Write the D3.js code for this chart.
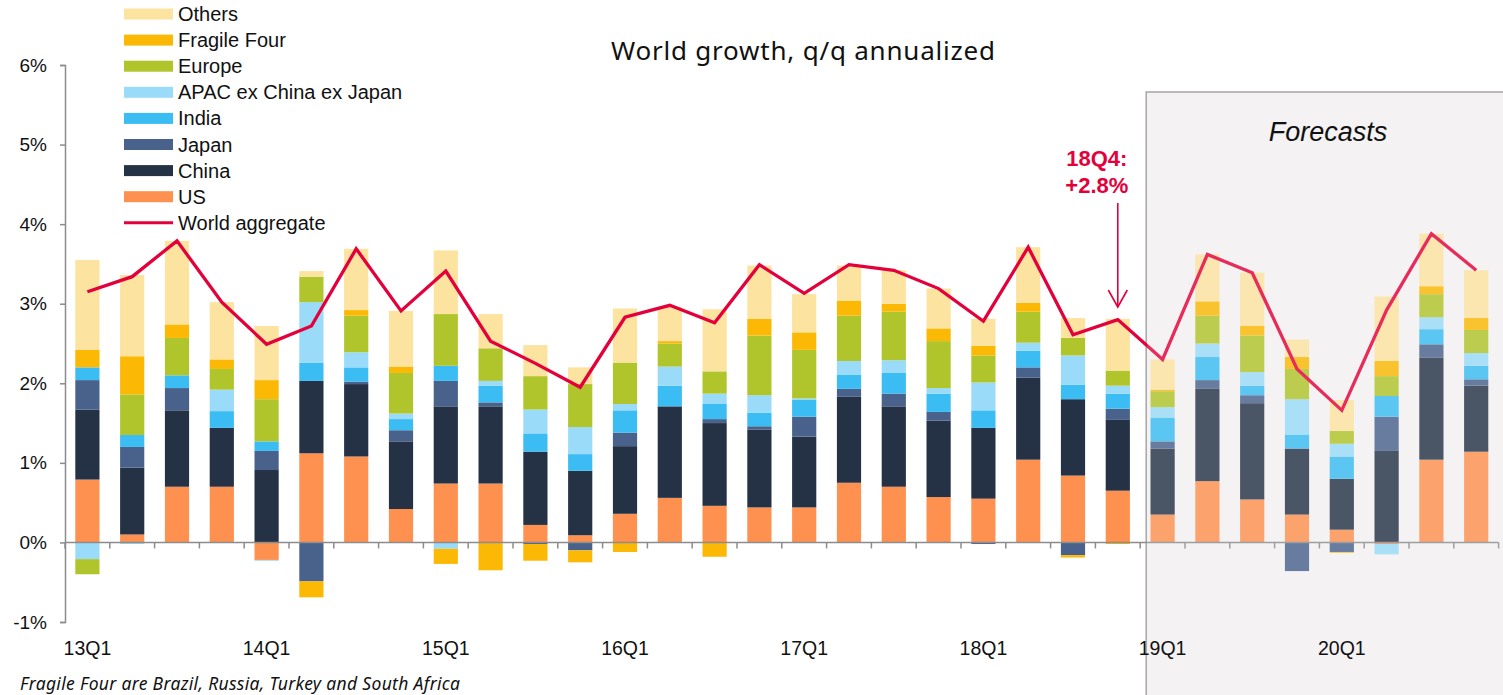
<!DOCTYPE html>
<html>
<head>
<meta charset="utf-8">
<title>World growth</title>
<script src="https://cdn.jsdelivr.net/npm/d3@7"></script>
<style>
body{margin:0;background:#fff;}
svg{display:block;}
</style>
</head>
<body>
<script>
//quarters on the x axis
var quarters=["13Q1","13Q2","13Q3","13Q4","14Q1","14Q2","14Q3","14Q4",
	"15Q1","15Q2","15Q3","15Q4","16Q1","16Q2","16Q3","16Q4",
	"17Q1","17Q2","17Q3","17Q4","18Q1","18Q2","18Q3","18Q4",
	"19Q1","19Q2","19Q3","19Q4","20Q1","20Q2","20Q3","20Q4"];
var xTickLabels=["13Q1","14Q1","15Q1","16Q1","17Q1","18Q1","19Q1","20Q1"];
var yTicks=[-1,0,1,2,3,4,5,6];

//contributions in percentage points
var us=[0.79,0.10,0.70,0.70,-0.22,1.12,1.08,0.42,0.74,0.74,0.22,0.09,0.36,0.56,0.46,0.44,
	0.44,0.75,0.70,0.57,0.55,1.04,0.84,0.65,0.35,0.77,0.54,0.35,0.16,-0.02,1.04,1.14];
var china=[0.88,0.84,0.96,0.74,0.91,0.91,0.91,0.85,0.97,0.97,0.92,0.81,0.85,1.15,1.04,0.98,
	0.89,1.08,1.01,0.96,0.89,1.03,0.96,0.89,0.83,1.16,1.21,0.83,0.64,1.15,1.28,0.83];
var japan=[0.37,0.26,0.28,0,0.24,-0.49,0.03,0.14,0.32,0.05,-0.02,-0.10,0.17,0,0.05,0.04,
	0.25,0.10,0.16,0.11,-0.02,0.13,-0.16,0.14,0.09,0.11,0.10,-0.36,-0.12,0.43,0.17,0.08];
var india=[0.16,0.15,0.16,0.21,0.12,0.23,0.18,0.14,0.19,0.21,0.23,0.21,0.28,0.26,0.19,0.17,
	0.21,0.18,0.26,0.23,0.22,0.21,0.18,0.19,0.30,0.29,0.12,0.17,0.28,0.26,0.19,0.17];
var apac=[-0.21,-0.02,0,0.27,-0.01,0.76,0.19,0.07,-0.08,0.06,0.30,0.34,0.08,0.24,0.13,0.22,
	0.02,0.17,0.16,0.07,0.35,0.10,0.37,0.10,0.13,0.17,0.17,0.45,0.16,-0.13,0.15,0.16];
var europe=[-0.19,0.51,0.47,0.26,0.53,0.32,0.46,0.51,0.65,0.41,0.42,0.54,0.52,0.29,0.28,0.75,
	0.61,0.57,0.61,0.59,0.34,0.39,0.22,0.19,0.20,0.35,0.46,0.38,0.16,0.25,0.29,0.29];
var fragileFour=[0.22,0.48,0.17,0.12,0.24,-0.20,0.07,0.08,-0.19,-0.35,-0.21,-0.15,-0.12,0.03,-0.18,0.21,
	0.22,0.19,0.10,0.16,0.12,0.11,-0.03,-0.02,0.02,0.18,0.12,0.15,-0.01,0.19,0.10,0.15];
var others=[1.13,1.02,1.05,0.72,0.68,0.07,0.77,0.70,0.80,0.43,0.39,0.21,0.68,0.43,0.78,0.67,
	0.48,0.44,0.42,0.50,0.34,0.70,0.25,0.65,0.38,0.59,0.67,0.22,0.39,0.81,0.66,0.60];
var world=[3.15,3.34,3.79,3.02,2.49,2.72,3.69,2.91,3.41,2.53,2.25,1.95,2.83,2.98,2.76,3.49,
	3.13,3.49,3.42,3.19,2.78,3.71,2.61,2.80,2.30,3.62,3.39,2.18,1.66,2.92,3.88,3.42];

var seriesNames=["US","China","Japan","India","APAC ex China ex Japan","Europe","Fragile Four","Others"];
var seriesValues=[us,china,japan,india,apac,europe,fragileFour,others];
var seriesColors=["#fe914f","#253246","#48628b","#3bbcf2","#99dbf8","#b0c42b","#fbb905","#fde3a0"];
var lineColor="#e4003b";
var firstForecast="19Q1";

window.onload=function(){
	var w=1503, h=695;
	var svg=d3.select("body")
		.append("svg")
		.attr("width",w)
		.attr("height",h);
	var arial="'Liberation Sans',Arial,sans-serif";

	//one row per quarter for the stack
	var rows=quarters.map(function(q,i){
		var r={quarter:q};
		seriesNames.forEach(function(n,j){ r[n]=seriesValues[j][i]; });
		return r;
	});

	var x=d3.scaleBand()
		.domain(quarters)
		.range([65,1498.6])
		.paddingInner(0.46)
		.paddingOuter(0.23);
	var y=d3.scaleLinear()
		.domain([-1,6])
		.range([622,65]);

	var stack=d3.stack()
		.keys(seriesNames)
		.offset(d3.stackOffsetDiverging);
	var layers=stack(rows);

	//forecast box behind everything
	var fx=x(firstForecast)-x.step()*x.paddingOuter()+6;
	svg.append("rect")
		.attr("x",fx)
		.attr("y",92)
		.attr("width",w-fx+10)
		.attr("height",h)
		.style("fill","#f4f2f3")
		.style("stroke","#a6a6a6")
		.style("stroke-width",1.5);

	//y axis
	var yAxis=d3.axisLeft(y)
		.tickValues(yTicks)
		.tickSize(5)
		.tickFormat(function(d){ return d+"%"; });
	var yg=svg.append("g")
		.attr("transform","translate(65,0)")
		.call(yAxis);
	yg.select(".domain").style("stroke","#8c8c8c").style("stroke-width",1.5);
	yg.selectAll(".tick line").style("stroke","#8c8c8c").style("stroke-width",1.5);
	yg.selectAll(".tick text")
		.attr("x",-18)
		.style("font-family",arial)
		.style("font-size","19px")
		.style("fill","#111");

	//bars
	var groups=svg.selectAll(".layer")
		.data(layers)
		.enter()
		.append("g")
		.attr("class","layer")
		.style("fill",function(d,i){ return seriesColors[i]; });
	groups.selectAll("rect")
		.data(function(d){ return d; })
		.enter()
		.append("rect")
		.attr("x",function(d){ return x(d.data.quarter); })
		.attr("width",x.bandwidth())
		.attr("y",function(d){ return y(Math.max(d[0],d[1])); })
		.attr("height",function(d){ return Math.abs(y(d[0])-y(d[1])); });

	//x axis along zero, ticks between the bars
	var zeroY=y(0);
	svg.append("line")
		.attr("x1",65).attr("x2",1498.6)
		.attr("y1",zeroY).attr("y2",zeroY)
		.style("stroke","#8c8c8c")
		.style("stroke-width",1.5);
	svg.selectAll(".xtick")
		.data(d3.range(quarters.length+1))
		.enter()
		.append("line")
		.attr("class","xtick")
		.attr("x1",function(i){ return 65+i*x.step(); })
		.attr("x2",function(i){ return 65+i*x.step(); })
		.attr("y1",zeroY)
		.attr("y2",zeroY+6)
		.style("stroke","#8c8c8c")
		.style("stroke-width",1.5);

	//world aggregate line
	var line=d3.line()
		.x(function(d,i){ return x(quarters[i])+x.bandwidth()/2; })
		.y(function(d){ return y(d); });
	svg.append("path")
		.datum(world)
		.attr("d",line)
		.style("fill","none")
		.style("stroke",lineColor)
		.style("stroke-width",3.3);

	//fade the forecast part
	svg.append("rect")
		.attr("x",fx+1)
		.attr("y",93)
		.attr("width",w-fx)
		.attr("height",h)
		.style("fill","#f4f2f3")
		.style("opacity",0.18);

	svg.append("text")
		.attr("x",1328)
		.attr("y",141)
		.attr("text-anchor","middle")
		.style("font-family",arial)
		.style("font-style","italic")
		.style("font-size","27px")
		.style("fill","#111")
		.text("Forecasts");

	//x labels
	svg.selectAll(".xlabel")
		.data(xTickLabels)
		.enter()
		.append("text")
		.attr("class","xlabel")
		.attr("x",function(d){ return x(d)+x.bandwidth()/2; })
		.attr("y",655)
		.attr("text-anchor","middle")
		.style("font-family",arial)
		.style("font-size","19.5px")
		.style("fill","#111")
		.text(function(d){ return d; });

	//title
	svg.append("text")
		.attr("x",611)
		.attr("y",60)
		.attr("textLength",384)
		.attr("lengthAdjust","spacing")
		.style("font-family","'Noto Sans',sans-serif")
		.style("font-size","26px")
		.style("fill","#111")
		.text("World growth, q/q annualized");

	//annotation for 18Q4
	var ax=x("18Q4")+x.bandwidth()/2;
	var note=svg.append("text")
		.attr("text-anchor","middle")
		.style("font-family",arial)
		.style("font-weight","bold")
		.style("font-size","22px")
		.style("fill",lineColor);
	note.append("tspan").attr("x",ax-21).attr("y",166).text("18Q4:");
	note.append("tspan").attr("x",ax-21).attr("y",193).text("+2.8%");
	svg.append("line")
		.attr("x1",ax).attr("x2",ax)
		.attr("y1",203).attr("y2",307)
		.style("stroke",lineColor)
		.style("stroke-width",1.6);
	svg.append("path")
		.attr("d","M"+(ax-9.5)+",290L"+ax+",307L"+(ax+9.5)+",290")
		.style("fill","none")
		.style("stroke",lineColor)
		.style("stroke-width",1.6);

	//legend, top to bottom
	var legendItems=seriesNames.slice().reverse();
	var legend=svg.selectAll(".legend")
		.data(legendItems)
		.enter()
		.append("g")
		.attr("class","legend")
		.attr("transform",function(d,i){ return "translate(124,"+(14+i*26.1)+")"; });
	legend.append("rect")
		.attr("x",0).attr("y",-5.5)
		.attr("width",49).attr("height",11)
		.style("fill",function(d){ return seriesColors[seriesNames.indexOf(d)]; });
	legend.append("text")
		.attr("x",54).attr("y",7)
		.style("font-family",arial)
		.style("font-size","20px")
		.style("fill","#111")
		.text(function(d){ return d; });
	var wl=svg.append("g")
		.attr("transform","translate(124,"+(14+8*26.1)+")");
	wl.append("line")
		.attr("x1",0).attr("x2",49)
		.style("stroke",lineColor)
		.style("stroke-width",3);
	wl.append("text")
		.attr("x",54).attr("y",7)
		.style("font-family",arial)
		.style("font-size","20px")
		.style("fill","#111")
		.text("World aggregate");

	//footnote
	svg.append("text")
		.attr("x",20)
		.attr("y",690)
		.attr("textLength",440)
		.attr("lengthAdjust","spacing")
		.style("font-family","'Noto Sans',sans-serif")
		.style("font-style","italic")
		.style("font-size","17.5px")
		.style("fill","#111")
		.text("Fragile Four are Brazil, Russia, Turkey and South Africa");
};
</script>
</body>
</html>
